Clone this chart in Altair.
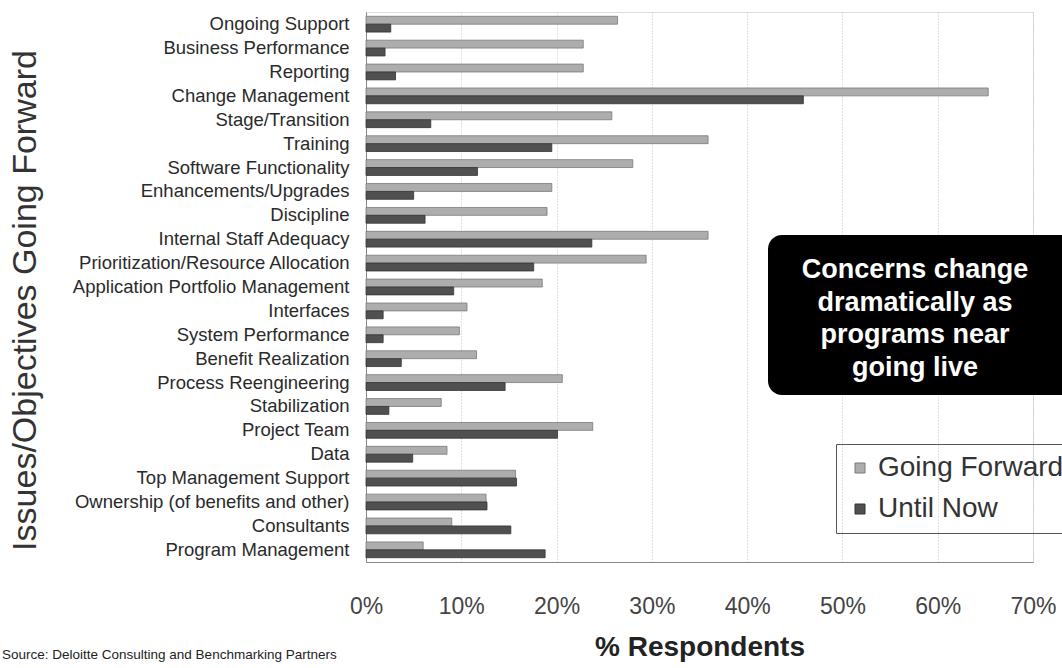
import altair as alt
import pandas as pd

categories = [
    "Ongoing Support", "Business Performance", "Reporting", "Change Management",
    "Stage/Transition", "Training", "Software Functionality", "Enhancements/Upgrades",
    "Discipline", "Internal Staff Adequacy", "Prioritization/Resource Allocation",
    "Application Portfolio Management", "Interfaces", "System Performance",
    "Benefit Realization", "Process Reengineering", "Stabilization", "Project Team",
    "Data", "Top Management Support", "Ownership (of benefits and other)",
    "Consultants", "Program Management",
]
going_forward = [26.4, 22.8, 22.8, 65.3, 25.8, 35.9, 28.0, 19.5, 19.0, 35.9, 29.4,
                 18.5, 10.6, 9.8, 11.6, 20.6, 7.9, 23.8, 8.5, 15.7, 12.6, 9.0, 6.0]
until_now = [2.6, 2.0, 3.1, 45.9, 6.8, 19.5, 11.7, 5.0, 6.2, 23.7, 17.6,
             9.2, 1.8, 1.8, 3.7, 14.6, 2.4, 20.1, 4.9, 15.8, 12.7, 15.2, 18.8]
series = ["Going Forward", "Until Now"]
x_ticks = [0, 0.1, 0.2, 0.3, 0.4, 0.5, 0.6, 0.7]
callout_lines = ["Concerns change", "dramatically as", "programs near", "going live"]
source_text = "Source:  Deloitte Consulting and Benchmarking Partners"

rows = []
for c, g, u in zip(categories, going_forward, until_now):
    rows.append({"category": c, "series": series[0], "value": g / 100})
    rows.append({"category": c, "series": series[1], "value": u / 100})
df = pd.DataFrame(rows)

W, H = 667, 550
FONT = "Liberation Sans"

bars = alt.Chart(df).mark_bar(strokeWidth=0.8).encode(
    x=alt.X("value:Q",
            scale=alt.Scale(domain=[0, 0.7], nice=False),
            axis=alt.Axis(values=x_ticks, format=".0%", title="% Respondents",
                          labelFontSize=23, labelColor="#444", labelPadding=33,
                          labelFont=FONT, labelFlush=False,
                          ticks=False, grid=True, gridColor="#c4c4c4", gridDash=[1, 2],
                          domainColor="#888", titleFontSize=28, titleFontWeight="bold",
                          titleFont=FONT, titleColor="#222",
                          titlePadding=15)),
    y=alt.Y("category:N", sort=categories,
            scale=alt.Scale(paddingInner=0.34, paddingOuter=0.18),
            axis=alt.Axis(title="Issues/Objectives Going Forward",
                          labelFontSize=18.5, labelColor="#2a2a2a", labelFont=FONT,
                          labelPadding=17, ticks=False, labelLimit=330,
                          domainColor="#888", grid=False,
                          titleFontSize=34, titleFontWeight="normal",
                          titleFont=FONT, titleColor="#333",
                          titleX=-341, titleY=288, titleAngle=-90,
                          titleAlign="center", titleBaseline="middle")),
    yOffset=alt.YOffset("series:N", scale=alt.Scale(domain=series)),
    color=alt.Color("series:N",
                    scale=alt.Scale(domain=series, range=["#adadad", "#505050"]),
                    legend=alt.Legend(title=None, orient="none", legendX=470, legendY=432,
                                      labelFontSize=28, labelColor="#333",
                                      labelFont=FONT, labelOffset=4,
                                      symbolType="square", symbolSize=100,
                                      symbolStrokeColor="#555", symbolStrokeWidth=1,
                                      strokeColor="#555", padding=10, rowPadding=13,
                                      labelLimit=300)),
    stroke=alt.Stroke("series:N",
                      scale=alt.Scale(domain=series, range=["#7a7a7a", "#333333"]),
                      legend=None),
)

box_df = pd.DataFrame({"k": [0]})
box = alt.Chart(box_df).mark_rect(color="black", cornerRadius=14).encode(
    x=alt.value(402), x2=alt.value(712), y=alt.value(223), y2=alt.value(383)
)

text_df = pd.DataFrame({"line": callout_lines, "i": list(range(len(callout_lines)))})
callout = alt.Chart(text_df).mark_text(
    color="white", fontSize=27, fontWeight="bold", font=FONT,
    align="center", baseline="middle"
).transform_calculate(
    py="258 + datum.i * 32.5"
).encode(
    x=alt.value(549), y=alt.Y("py:Q", scale=None), text="line:N"
)

src = alt.Chart(pd.DataFrame({"t": [source_text]})).mark_text(
    fontSize=13.5, color="#222", font=FONT, align="left", baseline="middle"
).encode(x=alt.value(-364), y=alt.value(643), text="t:N")

chart = alt.layer(bars, box, callout, src).properties(
    width=W, height=H,
    padding={"left": 366, "top": 12, "right": 29, "bottom": 106},
    autosize=alt.AutoSizeParams(type="none"),
).configure_view(stroke=None).configure(background="white")

chart.save("out.html", embed_options={"renderer": "svg", "actions": False})
